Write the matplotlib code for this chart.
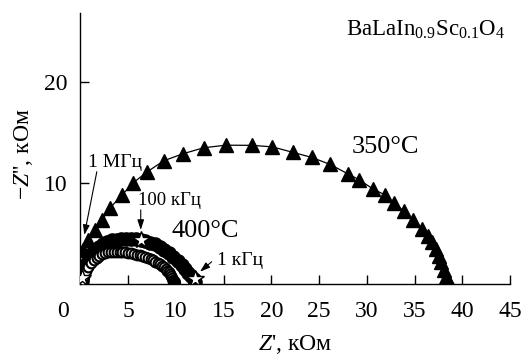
import matplotlib
matplotlib.use("Agg")
import matplotlib.pyplot as plt

plt.rcParams["font.family"] = "Liberation Serif"
plt.rcParams["mathtext.fontset"] = "custom"
plt.rcParams["mathtext.rm"] = "Liberation Serif"
plt.rcParams["mathtext.it"] = "Liberation Serif:italic"

# 350 °C spectrum, Z' and -Z'' in kOhm
z_re_350 = [0.27, 0.80, 1.53, 2.27, 3.10, 4.37, 5.52, 6.99, 8.72, 10.71, 12.90,
            15.23, 18.01, 20.11, 22.26, 24.23, 26.17, 27.98, 29.21, 30.63, 31.89,
            32.85, 33.90, 34.87, 35.74, 36.44, 36.87, 37.23, 37.54, 37.79, 38.10,
            38.33, 38.50, 38.57]
z_im_350 = [3.37, 4.36, 5.35, 6.34, 7.52, 8.81, 10.00, 11.09, 12.18, 12.87, 13.47,
            13.73, 13.71, 13.56, 13.02, 12.52, 11.82, 10.91, 10.30, 9.41, 8.81,
            8.02, 7.20, 6.34, 5.43, 4.77, 4.11, 3.45, 2.79, 2.13, 1.39,
            0.72, 0.35, 0.07]

# 400 °C, filled points
z_re_400 = [0.15, 0.25, 0.40, 0.60, 0.85, 1.15, 1.50, 1.90, 2.35, 2.80, 3.30,
            3.80, 4.30, 4.80, 5.30, 5.80, 6.30, 6.80, 7.30, 7.80, 8.30, 8.80,
            9.30, 9.75, 10.20, 10.60, 10.95, 11.30, 11.60, 11.85, 12.05]
z_im_400 = [0.30, 0.90, 1.50, 2.00, 2.50, 2.95, 3.35, 3.70, 3.98, 4.18, 4.32,
            4.40, 4.45, 4.46, 4.45, 4.42, 4.36, 4.25, 4.10, 3.92, 3.68, 3.38,
            3.05, 2.70, 2.30, 1.88, 1.50, 1.10, 0.75, 0.45, 0.20]

# 400 °C, open points
z_re_400b = [0.30, 0.40, 0.60, 0.80, 1.10, 1.40, 1.70, 2.00, 2.30, 2.60, 2.90,
             3.20, 3.50, 3.80, 4.10, 4.40, 4.70, 5.00, 5.30, 5.60, 5.90, 6.20,
             6.50, 6.80, 7.10, 7.35, 7.60, 7.85, 8.10, 8.35, 8.55, 8.75, 8.95,
             9.10, 9.25, 9.40, 9.50, 9.60, 9.68, 9.74, 9.78]
z_im_400b = [0.35, 0.80, 1.28, 1.68, 2.06, 2.36, 2.60, 2.80, 2.95, 3.05, 3.12,
             3.16, 3.19, 3.20, 3.19, 3.17, 3.14, 3.09, 3.04, 2.97, 2.90, 2.82,
             2.74, 2.64, 2.54, 2.44, 2.34, 2.22, 2.10, 1.96, 1.82, 1.66, 1.49,
             1.32, 1.14, 0.96, 0.78, 0.60, 0.44, 0.30, 0.22]

# frequency marks: 1 MHz, 100 kHz, 1 kHz
freq_labels = ["1 МГц", "100 кГц", "1 кГц"]
star_re = [0.20, 6.33, 12.00]
star_im = [0.60, 4.36, 0.45]

xticks = [0, 5, 10, 15, 20, 25, 30, 35, 40, 45]
yticks = [10, 20]

W, H = 524, 355
fig = plt.figure(figsize=(W / 100, H / 100), dpi=100)
ax = fig.add_axes([80.4 / W, 71 / H, (510 - 80.4) / W, 271 / H])

ax.plot(z_re_350, z_im_350, "-^", color="black", lw=0.9, ms=10.5, zorder=2)
ax.plot(z_re_400, z_im_400, "o", color="black", ms=9.5, zorder=3)
ax.plot(z_re_400b, z_im_400b, "o", mfc="white", mec="black", mew=1.5, ms=7,
        zorder=4)
# the lowest-frequency open points pile up into a solid dot
ax.plot(z_re_400b[-1:], z_im_400b[-1:], "o", color="black", ms=8.5, zorder=4)
ax.plot(star_re, star_im, "*", mfc="white", mec="black", mew=1.0, ms=13,
        zorder=5)

ax.set_xlim(0, 45)
ax.set_ylim(0, 26.8)
ax.set_xticks(xticks)
ax.set_xticklabels([""] + [str(t) for t in xticks[1:]])
ax.set_yticks(yticks)
for s in ("top", "right"):
    ax.spines[s].set_visible(False)
for s in ("left", "bottom"):
    ax.spines[s].set_linewidth(1.0)
ax.tick_params(direction="in", length=6.5, width=1.0, labelsize=17, pad=9)
ax.tick_params(axis="x", pad=12)
# zero label sits left of the corner
ax.annotate("0", xy=(0, 0), xycoords=("data", "axes fraction"),
            xytext=(-12.5, -12), textcoords="offset points",
            ha="center", va="top", fontsize=17)

ax.set_xlabel(r"$Z$', кОм", fontsize=17, labelpad=8)
ax.set_ylabel(r"−$Z$'', кОм", fontsize=17)
ax.yaxis.set_label_coords(-0.106, 0.48)

ax.text(27.8, 24.55, r"BaLaIn$_{0.9}$Sc$_{0.1}$O$_4$", fontsize=16.5,
        ha="left", va="baseline")
ax.text(28.45, 13.0, "350°C", fontsize=19, ha="left", va="baseline")
ax.text(9.56, 4.62, "400°C", fontsize=19, ha="left", va="baseline")

arrow = dict(arrowstyle="-|>,head_length=0.6,head_width=0.2", color="black",
             lw=0.8, shrinkA=0, shrinkB=0)
ax.text(0.75, 11.55, freq_labels[0], fontsize=14, ha="left", va="baseline")
ax.annotate("", xy=(0.41, 4.85), xytext=(1.72, 11.1), arrowprops=arrow)
ax.text(6.0, 7.82, freq_labels[1], fontsize=13.5, ha="left", va="baseline")
ax.annotate("", xy=(6.32, 5.35), xytext=(6.32, 7.33), arrowprops=arrow)
ax.text(14.28, 1.88, freq_labels[2], fontsize=14, ha="left", va="baseline")
ax.annotate("", xy=(12.53, 1.22), xytext=(13.75, 2.2), arrowprops=arrow)

fig.savefig("out.png", dpi=100)
